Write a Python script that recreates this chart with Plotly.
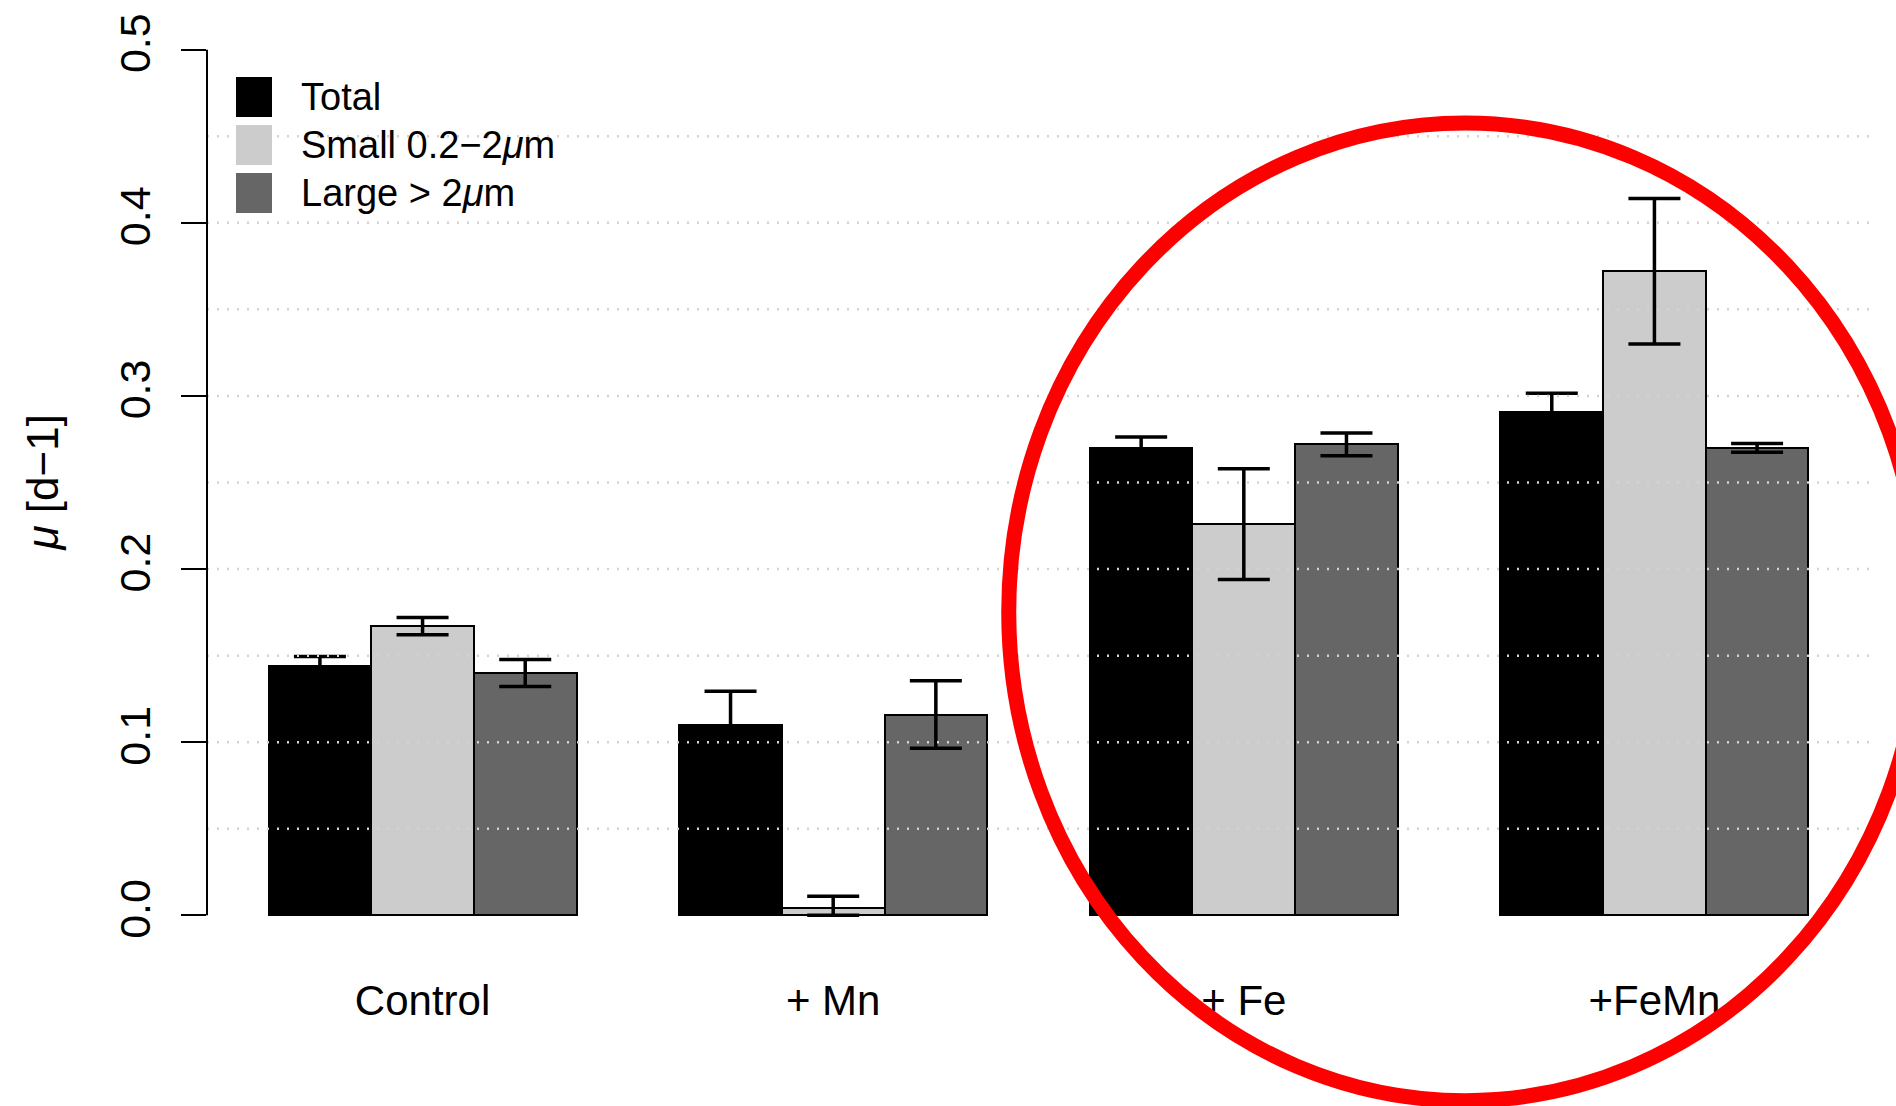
import plotly.graph_objects as go

# ---------------- data ----------------
categories = ["Control", "+ Mn", "+ Fe", "+FeMn"]
series_labels = ["Total", "Small 0.2\u22122<i>\u03bc</i>m", "Large > 2<i>\u03bc</i>m"]
total_vals = [0.144, 0.110, 0.270, 0.291]
total_err = [0.0055, 0.0195, 0.0063, 0.0105]
small_vals = [0.167, 0.004, 0.226, 0.372]
small_err = [0.0050, 0.0070, 0.0320, 0.0420]
large_vals = [0.140, 0.116, 0.272, 0.270]
large_err = [0.0078, 0.0195, 0.0066, 0.0025]
series_colors = ["#000000", "#CCCCCC", "#666666"]
y_ticks = [0.0, 0.1, 0.2, 0.3, 0.4, 0.5]
grid_vals = [0.05, 0.10, 0.15, 0.20, 0.25, 0.30, 0.35, 0.40, 0.45]

# ---------------- layout geometry ----------------
W, H = 1896, 1106
ML, MR, MT, MB = 207, 26, 15, 156
PW, PH = W - ML - MR, H - MT - MB
XMIN, XMAX = 0.4, 16.6
YMIN, YMAX = -0.02, 0.52


def px(u):
    return (u - XMIN) / (XMAX - XMIN)


def py(v):
    return (v - YMIN) / (YMAX - YMIN)


def pix_x(p):
    return (p - ML) / PW


def pix_y(p):
    return 1 - (p - MT) / PH


REG = "Liberation Sans, Arial, Helvetica, sans-serif"

fig = go.Figure()
vals_all = [total_vals, small_vals, large_vals]
errs_all = [total_err, small_err, large_err]
n_series = len(vals_all)
for s in range(n_series):
    xs = [1 + (n_series + 1) * g + s + 0.5 for g in range(len(categories))]
    minus = [min(e, v) for v, e in zip(vals_all[s], errs_all[s])]
    fig.add_trace(go.Bar(
        x=xs, y=vals_all[s], width=1.0,
        marker=dict(color=series_colors[s], line=dict(color="black", width=2)),
        error_y=dict(type="data", array=errs_all[s], arrayminus=minus,
                     symmetric=False, color="black", thickness=3.5, width=26),
        name=series_labels[s], showlegend=False,
    ))

group_centers = [1 + (n_series + 1) * g + n_series / 2 for g in range(len(categories))]

shapes = []
# dotted grid drawn over bars
for gv in grid_vals:
    shapes.append(dict(type="line", xref="paper", yref="paper",
                       x0=0, x1=1, y0=py(gv), y1=py(gv), layer="above",
                       line=dict(color="#D3D3D3", width=2.5, dash="2px,8px")))
# y axis line from 0 to 0.5
shapes.append(dict(type="line", xref="paper", yref="paper",
                   x0=0, x1=0, y0=py(y_ticks[0]), y1=py(y_ticks[-1]),
                   line=dict(color="black", width=2)))
# red highlight ellipse
shapes.append(dict(type="circle", xref="paper", yref="paper",
                   x0=px(8.21), x1=px(17.1), y0=py(-0.107), y1=py(0.4576),
                   layer="above", line=dict(color="#FF0000", width=15)))

annotations = []
# manual legend
leg_rows = [97, 145, 193]
for i, yc in enumerate(leg_rows):
    shapes.append(dict(type="rect", xref="paper", yref="paper",
                       x0=pix_x(236), x1=pix_x(272),
                       y0=pix_y(yc + 20), y1=pix_y(yc - 20),
                       fillcolor=series_colors[i], line=dict(width=0)))
    annotations.append(dict(xref="paper", yref="paper", x=pix_x(299), y=pix_y(yc),
                            xanchor="left", yanchor="middle", showarrow=False,
                            text=series_labels[i],
                            font=dict(family=REG, size=38, color="black")))
# y axis title
annotations.append(dict(xref="paper", yref="paper", x=pix_x(42), y=0.5,
                        xanchor="center", yanchor="middle", showarrow=False,
                        textangle=-90, text="<i>\u03bc</i> [d\u22121]",
                        font=dict(family=REG, size=44, color="black")))

fig.update_layout(
    width=W, height=H,
    margin=dict(l=ML, r=MR, t=MT, b=MB),
    paper_bgcolor="white", plot_bgcolor="white",
    barmode="overlay", bargap=0,
    shapes=shapes, annotations=annotations,
    xaxis=dict(range=[XMIN, XMAX], tickvals=group_centers, ticktext=categories,
               ticks="", showline=False, showgrid=False, zeroline=False,
               tickfont=dict(family=REG, size=42, color="black"),
               ticklabelstandoff=22),
    yaxis=dict(range=[YMIN, YMAX], tickvals=y_ticks, tickformat=".1f",
               ticks="outside", ticklen=25, tickwidth=2, tickcolor="black",
               showline=False, showgrid=False, zeroline=False,
               tickangle=-90,
               tickfont=dict(family=REG, size=43, color="black"),
               ticklabelstandoff=14),
    showlegend=False,
)

fig.write_html("out.html")
